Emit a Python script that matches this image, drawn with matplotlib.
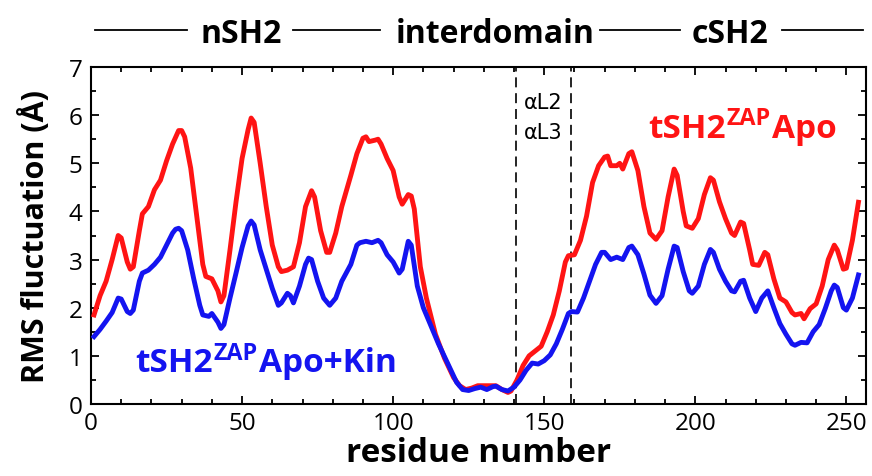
import matplotlib
matplotlib.use("Agg")
import matplotlib.pyplot as plt
from matplotlib.lines import Line2D
from matplotlib.ticker import MultipleLocator

# ---------------- data ----------------
red_x = [1, 3, 5, 7, 9, 10, 12, 13, 14, 16, 17, 19, 21, 23, 25, 27, 29, 30, 31, 33,
         35, 37, 38, 40, 42, 43, 44, 46, 48, 50, 52, 53, 54, 56, 58, 60, 62, 63, 65, 67,
         69, 71, 73, 74, 76, 78, 79, 81, 83, 86, 88, 90, 91, 92, 94, 95, 96, 98, 100, 102,
         103, 105, 106, 107, 109, 111, 114, 117, 120, 122, 124, 126, 128, 130, 132, 134, 136, 138, 139, 141,
         143, 145, 147, 149, 151, 153, 155, 157, 158, 160, 162, 164, 166, 168, 170, 171, 172, 174, 175, 176,
         178, 179, 181, 183, 185, 187, 189, 191, 193, 194, 196, 197, 199, 201, 203, 205, 206, 208, 210, 212,
         213, 215, 216, 218, 219, 221, 223, 224, 226, 228, 230, 232, 233, 235, 236, 238, 240, 242, 244, 246,
         247, 249, 250, 252, 254]
red_y = [1.85, 2.25, 2.55, 3.0, 3.5, 3.45, 2.95, 2.8, 2.85, 3.6, 3.95, 4.1, 4.45, 4.65, 5.05, 5.4, 5.68, 5.68, 5.55, 4.9,
         3.9, 2.9, 2.65, 2.6, 2.35, 2.12, 2.25, 3.2, 4.2, 5.1, 5.7, 5.94, 5.85, 5.0, 4.1, 3.3, 2.85, 2.75, 2.78, 2.85,
         3.35, 4.1, 4.43, 4.3, 3.6, 3.15, 3.15, 3.55, 4.1, 4.75, 5.2, 5.52, 5.55, 5.45, 5.48, 5.5, 5.4, 5.1, 4.85, 4.3,
         4.15, 4.35, 4.32, 4.05, 2.85, 2.2, 1.45, 0.95, 0.55, 0.38, 0.3, 0.33, 0.38, 0.38, 0.38, 0.38, 0.3, 0.24, 0.27, 0.5,
         0.8, 1.0, 1.1, 1.2, 1.5, 1.85, 2.35, 2.95, 3.08, 3.1, 3.4, 3.9, 4.6, 4.95, 5.13, 5.15, 4.95, 4.95, 5.0, 4.88,
         5.2, 5.24, 4.85, 4.1, 3.55, 3.42, 3.6, 4.3, 4.88, 4.75, 4.0, 3.7, 3.65, 3.85, 4.35, 4.7, 4.65, 4.2, 3.85, 3.55,
         3.5, 3.78, 3.75, 3.2, 2.9, 2.88, 3.15, 3.1, 2.6, 2.2, 2.12, 1.9, 1.85, 1.88, 1.77, 1.98, 2.08, 2.45, 3.0, 3.3,
         3.2, 2.8, 2.82, 3.4, 4.19]

blue_x = [1, 3, 5, 7, 9, 10, 12, 13, 14, 16, 17, 19, 21, 23, 25, 27, 28, 29, 30, 32,
          34, 36, 37, 39, 40, 42, 43, 44, 46, 48, 50, 52, 53, 54, 56, 58, 60, 62, 63, 65,
          66, 67, 69, 71, 72, 73, 75, 77, 79, 81, 83, 86, 88, 89, 91, 93, 95, 96, 98, 100,
          102, 103, 105, 106, 108, 110, 112, 115, 118, 121, 123, 125, 127, 129, 131, 133, 134, 136, 138, 140,
          142, 144, 146, 148, 150, 152, 154, 156, 158, 159, 161, 163, 165, 167, 169, 170, 172, 174, 176, 178,
          179, 181, 183, 185, 187, 189, 191, 193, 194, 196, 198, 199, 201, 203, 205, 206, 208, 210, 212, 213,
          215, 216, 218, 220, 222, 224, 226, 228, 230, 232, 233, 235, 237, 239, 241, 243, 245, 246, 247, 249,
          250, 252, 254]
blue_y = [1.4, 1.55, 1.72, 1.9, 2.2, 2.18, 1.92, 1.88, 1.95, 2.55, 2.72, 2.78, 2.9, 3.05, 3.3, 3.55, 3.63, 3.65, 3.6, 3.2,
          2.6, 2.05, 1.85, 1.82, 1.88, 1.7, 1.57, 1.65, 2.2, 2.72, 3.25, 3.7, 3.8, 3.72, 3.2, 2.8, 2.4, 2.05, 2.1, 2.3,
          2.25, 2.1, 2.45, 2.9, 3.03, 3.0, 2.55, 2.2, 2.05, 2.2, 2.55, 2.9, 3.3, 3.35, 3.38, 3.35, 3.4, 3.35, 3.1, 2.95,
          2.72, 2.8, 3.38, 3.3, 2.45, 2.0, 1.7, 1.25, 0.85, 0.45, 0.3, 0.28, 0.32, 0.35, 0.3, 0.36, 0.37, 0.3, 0.27, 0.35,
          0.5, 0.7, 0.85, 0.83, 0.9, 1.02, 1.25, 1.55, 1.88, 1.92, 1.91, 2.2, 2.55, 2.9, 3.15, 3.15, 3.0, 3.05, 3.0, 3.25,
          3.28, 3.1, 2.7, 2.26, 2.09, 2.25, 2.8, 3.28, 3.25, 2.75, 2.35, 2.3, 2.45, 2.9, 3.21, 3.15, 2.8, 2.55, 2.35, 2.33,
          2.55, 2.57, 2.2, 1.92, 2.2, 2.35, 2.0, 1.67, 1.45, 1.25, 1.22, 1.28, 1.27, 1.5, 1.65, 1.98, 2.35, 2.47, 2.42, 2.0,
          1.95, 2.2, 2.68]

loop_bounds = [140.5, 159]
loop_labels = ["\u03b1L2", "\u03b1L3"]
domain_labels = ["nSH2", "interdomain", "cSH2"]
x_ticks = [0, 50, 100, 150, 200, 250]
y_ticks = [0, 1, 2, 3, 4, 5, 6, 7]

RED = "#ff1414"
BLUE = "#1414f0"
FONT = "Open Sans"

plt.rcParams["font.family"] = [FONT, "DejaVu Sans"]

fig = plt.figure(figsize=(8.72, 4.77), dpi=100)
ax = fig.add_axes([91 / 872, 72 / 477, (866 - 91) / 872, (405 - 68) / 477])

ax.plot(red_x, red_y, color=RED, lw=3.5, solid_joinstyle="round", zorder=3)
ax.plot(blue_x, blue_y, color=BLUE, lw=3.5, solid_joinstyle="round", zorder=4)

for xb in loop_bounds:
    ax.axvline(xb, color="black", lw=1.2, ls=(0, (6, 3.5)), zorder=2)

ax.set_xlim(0, 256.5)
ax.set_ylim(0, 7)
ax.set_xticks(x_ticks)
ax.set_yticks(y_ticks)
ax.xaxis.set_minor_locator(MultipleLocator(10))
ax.yaxis.set_minor_locator(MultipleLocator(0.5))
ax.tick_params(which="both", direction="in", top=True, right=True, width=1.3,
               labelsize=17.5)
ax.tick_params(which="major", length=6)
ax.tick_params(which="minor", length=3.5)
ax.tick_params(axis="x", pad=5)
ax.tick_params(axis="y", pad=6)
for s in ax.spines.values():
    s.set_linewidth(1.5)

ax.set_xlabel("residue number", fontsize=24, fontweight="bold", labelpad=1)
ax.set_ylabel("RMS fluctuation (\u00c5)", fontsize=22, fontweight="bold")
ax.yaxis.set_label_coords(-0.052, 0.5)

# loop labels
xm = sum(loop_bounds) / 2
ax.text(xm, 6.27, loop_labels[0], fontsize=15, ha="center", va="center", family=["DejaVu Sans"])
ax.text(xm, 5.66, loop_labels[1], fontsize=15, ha="center", va="center", family=["DejaVu Sans"])


def sup_label(x, y, base, sup, tail, color, size):
    t1 = ax.text(x, y, base, color=color, fontsize=size, fontweight="bold", va="baseline", ha="left")
    t2 = ax.annotate(sup, xy=(1, 0), xycoords=t1, xytext=(0.5, 10.5), textcoords="offset points",
                     color=color, fontsize=size * 0.7, fontweight="bold", va="bottom", ha="left")
    ax.annotate(tail, xy=(1, 0), xycoords=(t2, t1), xytext=(1, 0), textcoords="offset points",
                color=color, fontsize=size, fontweight="bold", va="bottom", ha="left")


sup_label(184.5, 5.55, "tSH2", "ZAP", "Apo", RED, 24)
sup_label(14.5, 0.68, "tSH2", "ZAP", "Apo+Kin", BLUE, 24)

# header with domain names
hy = 1 - 31 / 477
segs = [(95, 187), (293, 380), (600, 680), (782, 863)]
for a, b in segs:
    fig.add_artist(Line2D([a / 872, b / 872], [hy, hy], transform=fig.transFigure, color="black", lw=1.3))
centers = [241, 495, 730]
for c, lab in zip(centers, domain_labels):
    fig.text(c / 872, 1 - 43 / 477, lab, fontsize=23, fontweight="bold", ha="center", va="baseline")

fig.savefig("out.png", dpi=100)
